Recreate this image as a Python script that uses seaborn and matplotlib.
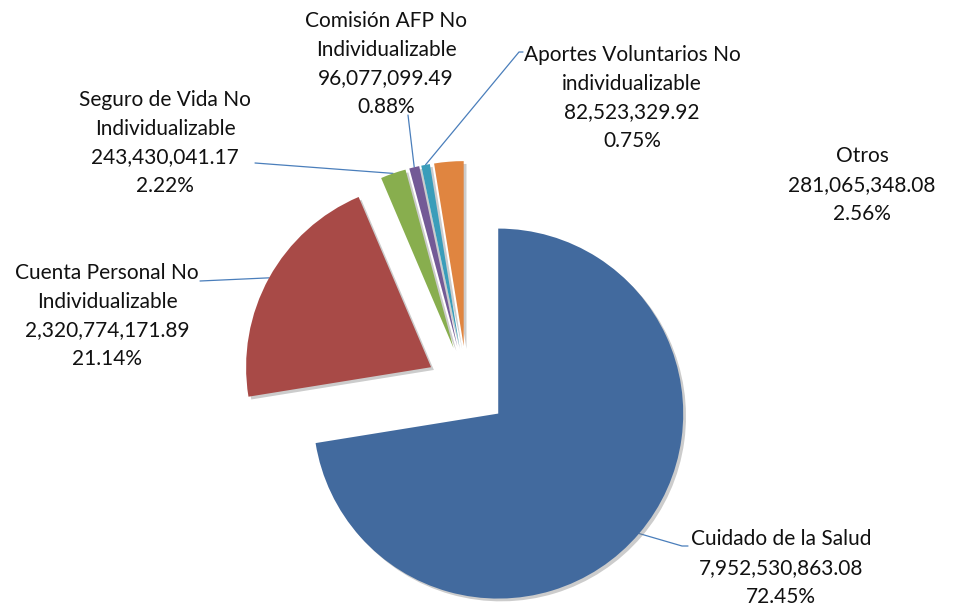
import matplotlib
matplotlib.use("Agg")
import matplotlib.pyplot as plt
import matplotlib.patheffects as pe
import numpy as np
import seaborn as sns

sns.set_theme(style="white")
plt.rcParams["font.family"] = ["Lato", "DejaVu Sans"]

# Distribution of non-individualizable amounts
categories = [
    "Cuidado de la Salud",
    "Cuenta Personal No\nIndividualizable",
    "Seguro de Vida No\nIndividualizable",
    "Comisión AFP No\nIndividualizable",
    "Aportes Voluntarios No\nindividualizable",
    "Otros",
]
amounts = [
    7952530863.08,
    2320774171.89,
    243430041.17,
    96077099.49,
    82523329.92,
    281065348.08,
]
percent_labels = ["72.45%", "21.14%", "2.22%", "0.88%", "0.75%", "2.56%"]

colors = ["#426A9E", "#A84A47", "#88AE4E", "#735A96", "#3A9DBA", "#E08540"]

W, H = 960, 607
fig = plt.figure(figsize=(W / 100, H / 100), dpi=100)
ax = fig.add_axes([0, 0, 1, 1])

radius = 185
wedges, _ = ax.pie(
    amounts,
    colors=colors,
    startangle=90,
    counterclock=False,
    explode=[41] * len(amounts),
    radius=radius,
    center=(467, H - 387),
    frame=True,
    wedgeprops=dict(linewidth=0),
)
ax.set_xlim(0, W)
ax.set_ylim(0, H)
ax.set_aspect("equal")
ax.axis("off")

for w in wedges:
    w.set_path_effects([
        pe.SimplePatchShadow(offset=(2, -2), shadow_rgbFace="#808080", alpha=0.4),
        pe.Normal(),
    ])


def anchor(w):
    mid = np.deg2rad((w.theta1 + w.theta2) / 2)
    cx, cy = w.center
    return cx + w.r * np.cos(mid), cy + w.r * np.sin(mid)


# label block centres (pixels from top-left) and leader-line paths
label_pos = [(781, 568), (107, 316), (165, 143), (386, 64), (632, 98), (862, 185)]
leader_start = [
    [(688, 546), (682, 546)],
    [(200, 281)],
    [(255, 163)],
    [(408, 115)],
    [(523, 52), (519, 52)],
    None,
]

for i, (w, name) in enumerate(zip(wedges, categories)):
    txt = f"{name}\n{amounts[i]:,.2f}\n{percent_labels[i]}"
    x, y = label_pos[i]
    ax.text(x, H - y, txt, ha="center", va="center", fontsize=15,
            linespacing=1.56, color="#111111")
    if leader_start[i] is not None:
        ax_, ay_ = anchor(w)
        xs = [p[0] for p in leader_start[i]] + [ax_]
        ys = [H - p[1] for p in leader_start[i]] + [ay_]
        ax.plot(xs, ys, color="#4A7EBB", lw=0.9, zorder=0.5)

fig.savefig("out.png", dpi=100)
